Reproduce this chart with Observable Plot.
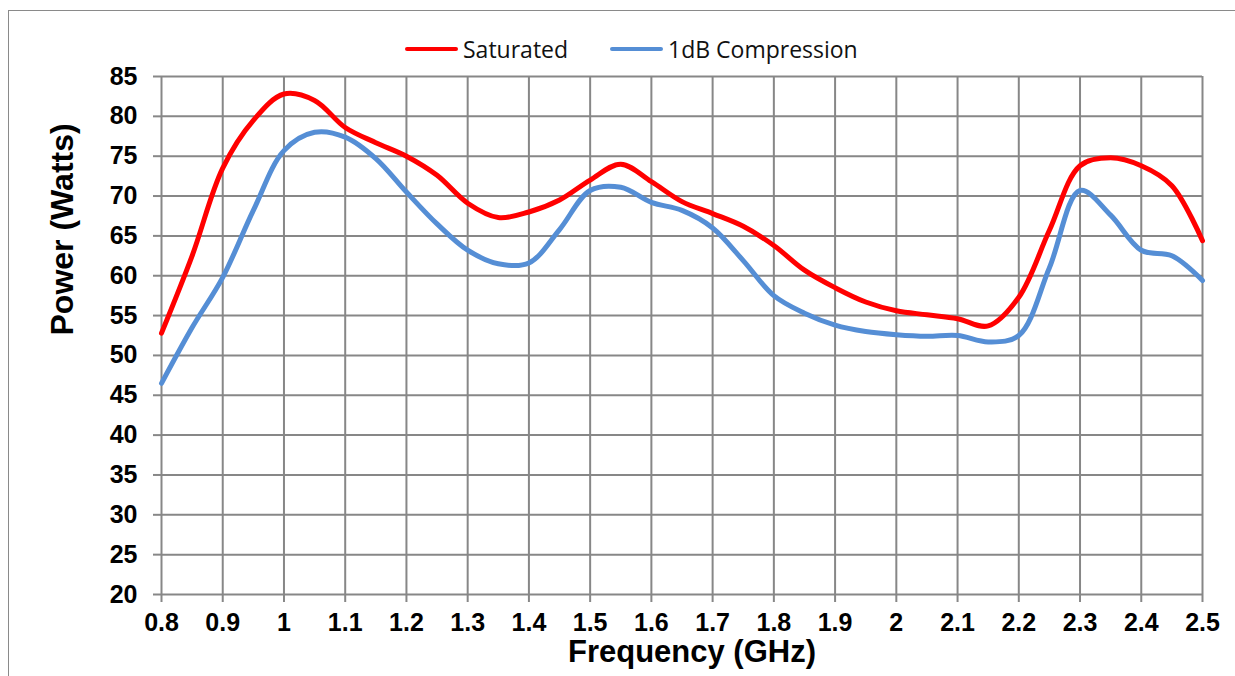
<!DOCTYPE html>
<html>
<head>
<meta charset="utf-8">
<script src="https://cdn.jsdelivr.net/npm/d3@7"></script>
<script src="https://cdn.jsdelivr.net/npm/@observablehq/plot@0.6"></script>
<style>
  html, body { margin: 0; padding: 0; background: #fff; }
  #wrap { position: relative; width: 1235px; height: 676px; overflow: hidden; }
  #border { position: absolute; left: 8px; top: 10px; width: 1300px; height: 700px;
            border-left: 1.5px solid #8a8a8a; border-top: 1.5px solid #8a8a8a; }
  #legend { position: absolute; top: 33px; left: 0; height: 32px;
            font-family: "Open Sans", sans-serif; font-size: 23px; color: #111; }
  .item { position: absolute; top: 0; white-space: nowrap; display: flex; align-items: center; height: 32px; }
  .swatch { display: inline-block; width: 53px; height: 4.5px; border-radius: 2px; margin-right: 5px; }
  #chart { position: absolute; left: 0; top: 0; }
</style>
</head>
<body>
<div id="wrap">
  <div id="border"></div>
  <div id="chart"></div>
  <div id="legend"></div>
</div>
<script>
// Frequency (GHz)
const freq = [0.8, 0.85, 0.9, 0.95, 1.0, 1.05, 1.1, 1.15, 1.2, 1.25, 1.3, 1.35, 1.4, 1.45, 1.5, 1.55, 1.6, 1.65,
              1.7, 1.75, 1.8, 1.85, 1.9, 1.95, 2.0, 2.05, 2.1, 2.15, 2.2, 2.25, 2.3, 2.35, 2.4, 2.45, 2.5];
// Saturated power (W)
const saturated = [52.8, 62.5, 73.5, 79.5, 82.8, 82.0, 78.6, 76.7, 75.0, 72.6, 69.1, 67.3, 68.0, 69.5, 72.0, 74.0, 71.8, 69.3,
                   67.8, 66.2, 63.8, 60.7, 58.5, 56.7, 55.6, 55.1, 54.6, 53.7, 57.3, 65.7, 73.8, 74.8, 73.8, 71.3, 64.4];
// 1dB compression power (W)
const compression = [46.5, 53.5, 59.8, 68.2, 75.7, 78.0, 77.4, 74.7, 70.5, 66.5, 63.2, 61.5, 61.6, 65.8, 70.7, 71.1, 69.2, 68.2,
                     66.0, 61.9, 57.5, 55.3, 53.8, 53.0, 52.6, 52.4, 52.5, 51.7, 52.5, 61.0, 70.7, 67.6, 63.2, 62.5, 59.4];

const seriesNames = ["Saturated", "1dB Compression"];
const seriesColors = ["#FF0000", "#558ED5"];
const xTicks = [0.8, 0.9, 1, 1.1, 1.2, 1.3, 1.4, 1.5, 1.6, 1.7, 1.8, 1.9, 2, 2.1, 2.2, 2.3, 2.4, 2.5];
const xTickLabels = ["0.8", "0.9", "1", "1.1", "1.2", "1.3", "1.4", "1.5", "1.6", "1.7", "1.8", "1.9", "2", "2.1", "2.2", "2.3", "2.4", "2.5"];
const yTicks = [20, 25, 30, 35, 40, 45, 50, 55, 60, 65, 70, 75, 80, 85];
const xLabel = "Frequency (GHz)";
const yLabel = "Power (Watts)";

const rows = [];
freq.forEach((f, i) => {
  rows.push({f, v: saturated[i], s: seriesNames[0]});
  rows.push({f, v: compression[i], s: seriesNames[1]});
});

const gridColor = "#878787";
const font = "'Liberation Sans', Arial, sans-serif";

const plot = Plot.plot({
  width: 1235,
  height: 676,
  marginLeft: 161,
  marginRight: 33,
  marginTop: 76,
  marginBottom: 82,
  style: {fontFamily: font, background: "transparent", overflow: "visible"},
  x: {domain: [0.8, 2.5], label: null},
  y: {domain: [20, 85], label: null},
  color: {domain: seriesNames, range: seriesColors},
  marks: [
    Plot.gridX({ticks: xTicks, stroke: gridColor, strokeOpacity: 1, strokeWidth: 2}),
    Plot.gridY({ticks: yTicks, stroke: gridColor, strokeOpacity: 1, strokeWidth: 2}),
    Plot.axisX({ticks: xTicks, tickSize: 8, tickPadding: 11, stroke: gridColor, strokeWidth: 2,
                fill: "#000", fontSize: 25, fontWeight: "bold", label: null,
                tickFormat: d => xTickLabels[xTicks.indexOf(d)]}),
    Plot.axisY({ticks: yTicks, tickSize: 8, tickPadding: 16, stroke: gridColor, strokeWidth: 2,
                fill: "#000", fontSize: 25, fontWeight: "bold", label: null}),
    Plot.line(rows, {x: "f", y: "v", z: "s", stroke: "s", strokeWidth: 5, curve: "catmull-rom"}),
    Plot.text([xLabel], {frameAnchor: "bottom", dy: 58, dx: 10, fontSize: 31, fontWeight: "bold",
                         fill: "#000", lineAnchor: "middle"}),
    Plot.text([yLabel], {frameAnchor: "left", dx: -99, rotate: -90, fontSize: 32, fontWeight: "bold",
                         fill: "#000", lineAnchor: "middle"})
  ]
});
document.getElementById("chart").appendChild(plot);

const legend = document.getElementById("legend");
const legendLeft = [405, 610];
seriesNames.forEach((name, i) => {
  const item = document.createElement("div");
  item.className = "item";
  item.style.left = legendLeft[i] + "px";
  const sw = document.createElement("span");
  sw.className = "swatch";
  sw.style.background = seriesColors[i];
  const label = document.createElement("span");
  label.textContent = name;
  item.appendChild(sw);
  item.appendChild(label);
  legend.appendChild(item);
});
</script>
</body>
</html>
